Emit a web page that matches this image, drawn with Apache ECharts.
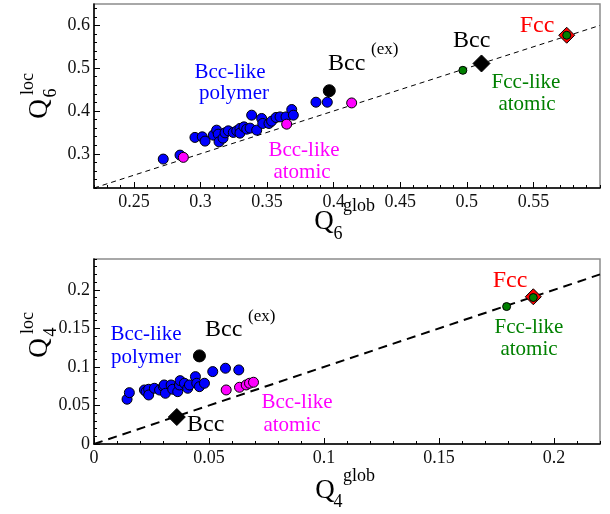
<!DOCTYPE html>
<html><head><meta charset="utf-8">
<script src="https://cdn.jsdelivr.net/npm/echarts@6/dist/echarts.min.js"></script>
<style>html,body{margin:0;padding:0;background:#fff}#c{width:610px;height:514px}</style>
</head><body><div id="c"></div>
<script>
// ---- tick labels ----
const topXTicks = [0.25, 0.3, 0.35, 0.4, 0.45, 0.5, 0.55];
const topYTicks = [0.3, 0.4, 0.5, 0.6];
const botXTicks = [0, 0.05, 0.1, 0.15, 0.2];
const botYTicks = [0, 0.05, 0.1, 0.15, 0.2];

// ---- Q6 panel data ----
const q6PolyX = [0.272,0.2846,0.2958,0.3013,0.3034,0.3096,0.3121,0.3133,0.3139,0.3169,0.3184,0.3209,0.3246,0.3272,0.3296,0.3296,0.3326,0.3347,0.3372,0.3384,0.3422,0.3459,0.3467,0.3514,0.3534,0.3567,0.3597,0.3642,0.3685,0.3697,0.3867,0.3952];
const q6PolyY = [0.2876,0.2969,0.3382,0.3396,0.3296,0.3435,0.3552,0.3459,0.3279,0.3365,0.3489,0.3536,0.3498,0.3536,0.3592,0.3482,0.3629,0.3575,0.3599,0.3902,0.3552,0.3825,0.3708,0.3708,0.3762,0.3848,0.3862,0.3862,0.4034,0.3902,0.4205,0.4205];
const q6AtomicX = [0.2871, 0.3647, 0.4135];
const q6AtomicY = [0.2916, 0.3692, 0.4188];
const q6BccExX = [0.3967];
const q6BccExY = [0.4473];
const q6BccX = [0.511];
const q6BccY = [0.511];
const q6FccX = [0.575];
const q6FccY = [0.577];
const q6FccLikeX = [0.497, 0.575];
const q6FccLikeY = [0.495, 0.577];
const q6Diag = [0.22, 0.6];

// ---- Q4 panel data ----
const q4PolyX = [0.01437,0.01537,0.0219,0.02264,0.02377,0.02377,0.02625,0.0285,0.03017,0.0305,0.03104,0.03352,0.03422,0.0364,0.03714,0.03744,0.03931,0.04075,0.04149,0.0441,0.04467,0.04584,0.04802,0.05163,0.05716,0.06295];
const q4PolyY = [0.0581,0.0666,0.0701,0.0679,0.071,0.0636,0.0723,0.07,0.0744,0.0766,0.0658,0.0766,0.071,0.0679,0.0766,0.0822,0.0788,0.0723,0.0766,0.0874,0.0788,0.0744,0.0788,0.0939,0.0983,0.0961];
const q4AtomicX = [0.05747, 0.06326, 0.06617, 0.06761, 0.06935];
const q4AtomicY = [0.0701, 0.0736, 0.0766, 0.0788, 0.0801];
const q4BccExX = [0.04584];
const q4BccExY = [0.1143];
const q4BccX = [0.036];
const q4BccY = [0.035];
const q4FccX = [0.191];
const q4FccY = [0.191];
const q4FccLikeX = [0.1794, 0.191];
const q4FccLikeY = [0.1783, 0.19];
const q4Diag = [0, 0.22];

const zip = (a, b) => a.map((v, i) => [v, b[i]]);
function minorVals(lo, hi, step) {
  const out = [];
  const n = Math.round((hi - lo) / step);
  for (let i = 0; i <= n; i++) out.push(+(lo + i * step).toFixed(4));
  return out;
}
const FONT = '"Liberation Serif", "DejaVu Serif", serif';

function mainAxis(grid, min, max, ticks, isY) {
  return {
    gridIndex: grid, type: 'value', min: min, max: max,
    axisLine: { show: true, onZero: false, lineStyle: { color: '#000', width: 1.5 } },
    axisTick: { show: true, inside: true, length: 6, customValues: ticks, lineStyle: { color: '#000', width: 1 } },
    axisLabel: { show: true, customValues: ticks, fontFamily: FONT, fontSize: 18, color: '#111', margin: isY ? 4 : 5 },
    splitLine: { show: false }
  };
}
function minorAxis(grid, min, max, vals) {
  return {
    gridIndex: grid, type: 'value', min: min, max: max,
    axisLine: { show: false, onZero: false },
    axisTick: { show: true, inside: true, length: 3, customValues: vals, lineStyle: { color: '#000', width: 1 } },
    axisLabel: { show: false },
    splitLine: { show: false }
  };
}

function dots(name, xi, x, y, size, color, symbol, border) {
  return {
    name: name, type: 'scatter', xAxisIndex: xi, yAxisIndex: xi,
    data: zip(x, y), symbol: symbol || 'circle', symbolSize: size,
    itemStyle: { color: color, borderColor: '#000', borderWidth: border === undefined ? 1 : border, opacity: 1 },
    silent: true, z: 5
  };
}
function diag(xi, d, width, dash) {
  return {
    type: 'line', xAxisIndex: xi, yAxisIndex: xi,
    data: zip(d, d), symbol: 'none', silent: true, z: 3,
    lineStyle: { color: '#000', width: width, type: dash }
  };
}

function txt(text, x, y, size, color, align) {
  return { type: 'text', x: x, y: y, silent: true, z: 20,
    style: { text: text, fill: color, font: size + 'px ' + FONT, align: align || 'center', verticalAlign: 'middle' } };
}
function yTitle(cx, cy, sub) {
  return { type: 'group', x: cx, y: cy, rotation: Math.PI / 2, silent: true, z: 20,
    children: [
      { type: 'text', x: 0, y: 0, style: { text: 'Q', fill: '#000', font: '27px ' + FONT, align: 'center', verticalAlign: 'middle' } },
      { type: 'text', x: 16, y: 11, style: { text: sub, fill: '#000', font: '18px ' + FONT, align: 'center', verticalAlign: 'middle' } },
      { type: 'text', x: 25, y: -12, style: { text: 'loc', fill: '#000', font: '18px ' + FONT, align: 'center', verticalAlign: 'middle' } }
    ] };
}

const chart = echarts.init(document.getElementById('c'), null, { renderer: 'canvas' });
chart.setOption({
  animation: false,
  backgroundColor: '#fff',
  grid: [
    { left: 94, top: 4, width: 506, height: 184, show: true, borderColor: '#8c8c8c', borderWidth: 1.5, backgroundColor: 'transparent', containLabel: false },
    { left: 94, top: 4, width: 506, height: 184, show: false, containLabel: false },
    { left: 94, top: 259, width: 506, height: 185, show: true, borderColor: '#8c8c8c', borderWidth: 1.5, backgroundColor: 'transparent', containLabel: false },
    { left: 94, top: 259, width: 506, height: 185, show: false, containLabel: false }
  ],
  xAxis: [
    mainAxis(0, 0.22, 0.6, topXTicks, false),
    minorAxis(1, 0.22, 0.6, minorVals(0.22, 0.6, 0.01)),
    mainAxis(2, 0, 0.22, botXTicks, false),
    minorAxis(3, 0, 0.22, minorVals(0, 0.22, 0.01))
  ],
  yAxis: [
    mainAxis(0, 0.22, 0.65, topYTicks, true),
    minorAxis(1, 0.22, 0.65, minorVals(0.22, 0.64, 0.02)),
    mainAxis(2, 0, 0.24, botYTicks, true),
    minorAxis(3, 0, 0.24, minorVals(0, 0.24, 0.01))
  ],
  series: [
    diag(0, q6Diag, 1, [5, 4]),
    dots('Bcc-like polymer', 0, q6PolyX, q6PolyY, 10, '#0000ff'),
    dots('Bcc-like atomic', 0, q6AtomicX, q6AtomicY, 10, '#ff00ff'),
    dots('Bcc(ex)', 0, q6BccExX, q6BccExY, 12, '#000'),
    dots('Bcc', 0, q6BccX, q6BccY, 17, '#000', 'diamond'),
    dots('Fcc', 0, q6FccX, q6FccY, 16, '#ff0000', 'diamond'),
    dots('Fcc-like atomic', 0, q6FccLikeX, q6FccLikeY, 8, '#008000'),

    diag(2, q4Diag, 2, [9, 6]),
    dots('Bcc-like polymer', 2, q4PolyX, q4PolyY, 10, '#0000ff'),
    dots('Bcc-like atomic', 2, q4AtomicX, q4AtomicY, 10, '#ff00ff'),
    dots('Bcc(ex)', 2, q4BccExX, q4BccExY, 12, '#000'),
    dots('Bcc', 2, q4BccX, q4BccY, 17, '#000', 'diamond'),
    dots('Fcc', 2, q4FccX, q4FccY, 16, '#ff0000', 'diamond'),
    dots('Fcc-like atomic', 2, q4FccLikeX, q4FccLikeY, 8, '#008000')
  ],
  graphic: [
    // top panel annotations
    txt('Bcc-like', 230, 72, 21, '#0000ff'),
    txt('polymer', 234, 93, 21, '#0000ff'),
    txt('Bcc-like', 304, 150, 21, '#ff00ff'),
    txt('atomic', 302, 172, 21, '#ff00ff'),
    txt('Bcc', 328, 64, 24, '#000', 'left'),
    txt('(ex)', 371, 50, 17, '#000', 'left'),
    txt('Bcc', 453, 41, 24, '#000', 'left'),
    txt('Fcc', 537, 26, 24, '#ff0000'),
    txt('Fcc-like', 526, 82, 21, '#008000'),
    txt('atomic', 527, 104, 21, '#008000'),
    // bottom panel annotations
    txt('Bcc-like', 146, 334, 21, '#0000ff'),
    txt('polymer', 146, 357, 21, '#0000ff'),
    txt('Bcc', 205, 330, 24, '#000', 'left'),
    txt('(ex)', 248, 317, 17, '#000', 'left'),
    txt('Bcc', 187, 425, 24, '#000', 'left'),
    txt('Bcc-like', 297, 402, 21, '#ff00ff'),
    txt('atomic', 292, 425, 21, '#ff00ff'),
    txt('Fcc', 510, 281, 24, '#ff0000'),
    txt('Fcc-like', 529, 327, 21, '#008000'),
    txt('atomic', 529, 349, 21, '#008000'),
    // axis titles
    txt('Q', 324, 222, 27, '#000'),
    txt('6', 338, 234, 18, '#000'),
    txt('glob', 343, 206, 18, '#000', 'left'),
    txt('Q', 325, 491, 27, '#000'),
    txt('4', 338, 502, 18, '#000'),
    txt('glob', 343, 476, 18, '#000', 'left'),
    yTitle(40, 109, '6'),
    yTitle(40, 348, '4')
  ]
});
</script>
</body></html>
